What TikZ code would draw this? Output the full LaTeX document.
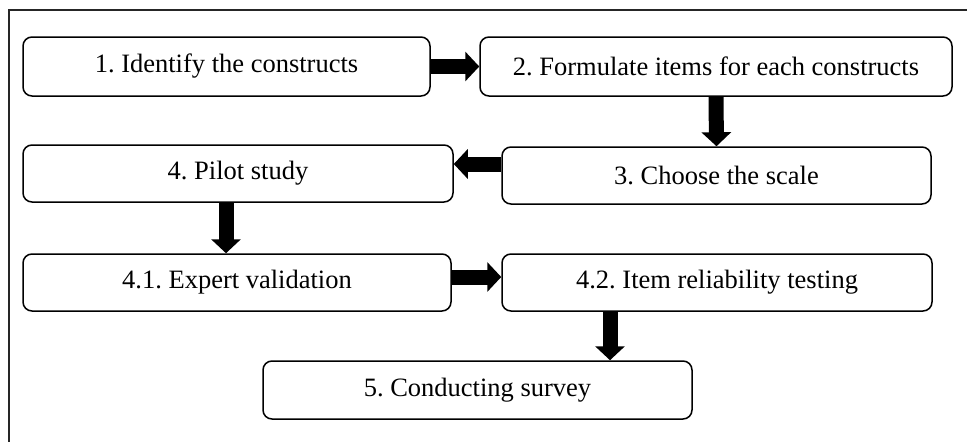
\documentclass[tikz,border=0pt]{standalone}
\usepackage{fontspec}
\setmainfont{Liberation Serif}
\usetikzlibrary{arrows.meta}
\frenchspacing
\tikzset{
  box/.style={draw=black, line width=1.5pt, rounded corners=9pt, fill=white,
    inner sep=0pt, align=center, font=\fontsize{26.5}{30}\selectfont\frenchspacing},
  blk/.style={line width=15pt, -{Triangle[length=14pt,width=29pt]}},
  frame/.style={line width=1.3pt, draw=black!85}
}
\begin{document}
\begin{tikzpicture}[x=1pt,y=-1pt]
\useasboundingbox (0,0) rectangle (967,442);
\draw[frame] (967,10) -- (9,10) -- (9,442);
\node[box, minimum width=407pt, minimum height=59pt] (b1) at (226.5,66.5) {1. Identify the constructs};
\node[box, minimum width=472pt, minimum height=59pt] (b2) at (716,66.5) {2. Formulate items for each constructs};
\node[box, minimum width=429pt, minimum height=57pt] (b3) at (716.5,175.5) {3. Choose the scale};
\node[box, minimum width=430pt, minimum height=57pt] (b4) at (238,173.5) {4. Pilot study};
\node[box, minimum width=428pt, minimum height=57pt] (b41) at (237,282.5) {4.1. Expert validation};
\node[box, minimum width=430pt, minimum height=57pt] (b42) at (717,282.5) {4.2. Item reliability testing};
\node[box, minimum width=429pt, minimum height=58pt] (b5) at (477.5,390) {5. Conducting survey};
\draw[blk] (b1.east) -- (b2.west);
\draw[blk] (b2.south) -- (b3.north);
\draw[blk] ([yshift=11.5pt]b3.west) -- ([yshift=11.5pt]b3.west -| b4.east);
\draw[blk] ([xshift=-12pt]b4.south) -- ([xshift=-12pt]b4.south |- b41.north);
\draw[blk] ([yshift=5.5pt]b41.east) -- ([yshift=5.5pt]b41.east -| b42.west);
\draw[blk] ([xshift=-107pt]b42.south) -- ([xshift=-107pt]b42.south |- b5.north);
\end{tikzpicture}
\end{document}
